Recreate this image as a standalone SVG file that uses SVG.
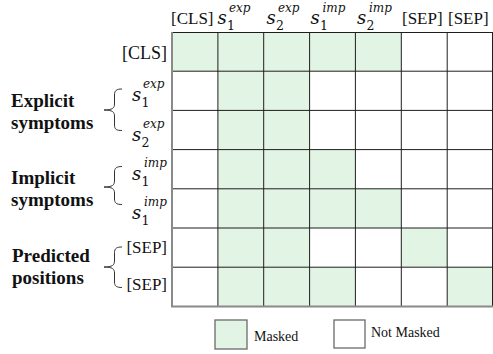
<svg xmlns="http://www.w3.org/2000/svg" width="493" height="354" viewBox="0 0 493 354">
<style>
.bg{fill:#ffffff}
.m{fill:#e2f4e3}
.gl{stroke:#1e1e1e;stroke-width:1;fill:none}
.ob{stroke:#8a8a8a;stroke-width:2;fill:none}
.br{stroke:#333;stroke-width:1;fill:none}
.t{font-family:"Liberation Serif","Times New Roman",serif;fill:#111}
.hd{font-size:17px}
.rl{font-size:17px}
.grp{font-family:"Liberation Serif","Times New Roman",serif;font-size:19px;font-weight:bold;fill:#111}
.s{font-family:"DejaVu Serif",serif;font-style:italic;font-size:18px;fill:#111}
.sb{font-family:"DejaVu Serif",serif;font-size:12.5px;fill:#111}
.sp{font-family:"DejaVu Serif",serif;font-style:italic;font-size:12px;fill:#111}
.lg{font-family:"Liberation Serif","Times New Roman",serif;font-size:14px;fill:#111}
.lb{stroke:#6a6a6a;stroke-width:1.3}
</style>
<rect class="bg" x="0" y="0" width="493" height="354"/>

<g id="grid">
  <g id="masked-cells">
    <rect class="m" x="172" y="32" width="229.3" height="39.2"/>
    <rect class="m" x="217.9" y="32" width="91.7" height="274.4"/>
    <rect class="m" x="309.6" y="149.6" width="45.8" height="78.4"/>
    <rect class="m" x="309.6" y="267.2" width="45.8" height="39.2"/>
    <rect class="m" x="355.4" y="188.8" width="45.9" height="39.2"/>
    <rect class="m" x="401.3" y="228" width="45.9" height="39.2"/>
    <rect class="m" x="447.2" y="267.2" width="45.8" height="39.2"/>
  </g>
  <path class="gl" d="M217.9 32V306.4M263.7 32V306.4M309.6 32V306.4M355.4 32V306.4M401.3 32V306.4M447.2 32V306.4M492.5 32V306.4
  M172 32.5H493M172 71.2H493M172 110.4H493M172 149.6H493M172 188.8H493M172 228H493M172 267.2H493"/>
  <path class="ob" d="M172 32V306.4H493"/>
</g>

<g id="col-headers">
  <text class="t hd" x="171" y="24">[CLS]</text>
  <g id="h-s1exp"><text class="s" x="217.5" y="23.5">s</text><text class="sb" x="227" y="29.5">1</text><text class="sp" x="229" y="12">exp</text></g>
  <g id="h-s2exp"><text class="s" x="266.5" y="23.5">s</text><text class="sb" x="276" y="29.5">2</text><text class="sp" x="278" y="12">exp</text></g>
  <g id="h-s1imp"><text class="s" x="310.5" y="23.5">s</text><text class="sb" x="320" y="29.5">1</text><text class="sp" x="322.5" y="12">imp</text></g>
  <g id="h-s2imp"><text class="s" x="357" y="23.5">s</text><text class="sb" x="366.5" y="29.5">2</text><text class="sp" x="369" y="12">imp</text></g>
  <text class="t hd" x="402" y="24">[SEP]</text>
  <text class="t hd" x="448" y="24">[SEP]</text>
</g>

<g id="row-labels">
  <text class="t" style="font-size:18px" x="167" y="59" text-anchor="end">[CLS]</text>
  <g id="r-s1exp"><text class="s" x="132" y="101">s</text><text class="sb" x="141.5" y="107">1</text><text class="sp" x="143" y="88">exp</text></g>
  <g id="r-s2exp"><text class="s" x="132" y="141">s</text><text class="sb" x="141.5" y="147">2</text><text class="sp" x="143" y="128">exp</text></g>
  <g id="r-s1imp-a"><text class="s" x="132" y="180">s</text><text class="sb" x="141.5" y="186">1</text><text class="sp" x="144" y="167">imp</text></g>
  <g id="r-s1imp-b"><text class="s" x="132" y="219">s</text><text class="sb" x="141.5" y="225">1</text><text class="sp" x="144" y="206">imp</text></g>
  <text class="t rl" x="167" y="253" text-anchor="end">[SEP]</text>
  <text class="t rl" x="167" y="290" text-anchor="end">[SEP]</text>
</g>

<g id="group-labels">
  <g id="explicit"><text class="grp" x="11" y="107">Explicit</text><text class="grp" x="11" y="129">symptoms</text></g>
  <g id="implicit"><text class="grp" x="11" y="184">Implicit</text><text class="grp" x="11" y="206">symptoms</text></g>
  <g id="predicted"><text class="grp" x="12" y="262">Predicted</text><text class="grp" x="12" y="284">positions</text></g>
</g>

<g id="braces">
  <path class="br" d="M122 89C116.5 89 114.5 90.5 114.5 95V104C114.5 108 112.5 110 104 110C112.5 110 114.5 112 114.5 116V125C114.5 129.5 116.5 130.5 122 130.5"/>
  <path class="br" d="M122 166.5C116.5 166.5 114.5 168 114.5 172V181C114.5 185 112.5 187 104 187C112.5 187 114.5 189 114.5 193V199C114.5 203 116.5 204.5 122 204.5"/>
  <path class="br" d="M122 247C116.5 247 114.5 248.5 114.5 252.5V261C114.5 265 112.5 267 104 267C112.5 267 114.5 269 114.5 273V282C114.5 286 116.5 287.5 122 287.5"/>
</g>

<g id="legend">
  <g id="legend-masked"><rect class="m lb" x="215" y="320" width="32" height="29"/><text class="lg" x="254" y="341">Masked</text></g>
  <g id="legend-not-masked"><rect class="bg lb" x="334" y="320" width="31" height="28"/><text class="lg" x="371" y="337">Not Masked</text></g>
</g>
</svg>
